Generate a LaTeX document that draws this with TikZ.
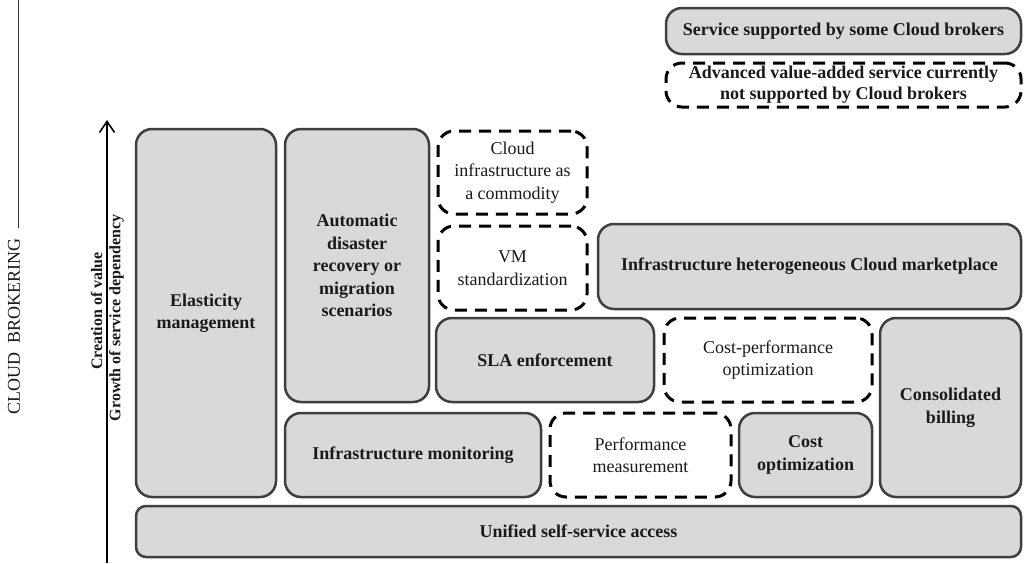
\documentclass[tikz,border=0pt]{standalone}
\usepackage{fontspec}
\setmainfont{Liberation Serif}
\usetikzlibrary{arrows.meta}
\definecolor{boxfill}{HTML}{D9D9D9}
\definecolor{boxline}{HTML}{3F3F3F}
\definecolor{txt}{HTML}{1A1A1A}
\begin{document}
\begin{tikzpicture}[x=1pt,y=-1pt,
  gbox/.style={draw=boxline, fill=boxfill, line width=2.5pt, rounded corners=16pt,
    align=center, inner sep=2pt, text=txt,
    font=\fontsize{18}{22.5}\selectfont\bfseries},
  dbox/.style={draw=black, fill=white, line width=3pt, dash pattern=on 12pt off 8pt,
    rounded corners=16pt, align=center, inner sep=2pt, text=txt,
    font=\fontsize{18}{22.5}\selectfont},
  axislbl/.style={rotate=90, inner sep=0pt, text=txt, font=\fontsize{16}{17}\selectfont\bfseries},
  sz/.style 2 args={minimum width=#1pt, minimum height=#2pt}
]
\useasboundingbox (0,0) rectangle (1026,563);

% left heading
\coordinate (ltop) at (18,0);
\coordinate (lbot) at (18,228);
\draw[line width=0.8pt, black!80] (ltop) -- (lbot);
\node[rotate=90, inner sep=0pt, text=txt, font=\fontsize{18}{20}\selectfont] (cb) at (14,326) {CLOUD\ \ BROKERING};

% axis arrow
\coordinate (abot) at (107,563);
\coordinate (atop) at (107,120);
\draw[line width=1.6pt, -{Straight Barb[length=11pt,width=15pt,line width=1.6pt]}] (abot) -- (atop);
\node[axislbl] (cv) at (96.5,311) {Creation of value};
\node[axislbl] (gs) at (116.5,318) {Growth of service dependency};

% legend
\node[gbox, sz={355}{46}] (leg1) at (843.5,31) {Service supported by some Cloud brokers};
\node[dbox, sz={355}{44}, font=\fontsize{18}{21}\selectfont\bfseries] (leg2) at (843.5,85) {Advanced value-added service currently\\not supported by Cloud brokers};

% main boxes
\node[gbox, sz={140}{368}] (elast) at (206,313) {Elasticity\\management};
\node[gbox, sz={144}{273}] (auto) at (357,265.5) {Automatic\\disaster\\recovery or\\migration\\scenarios};
\node[dbox, sz={149}{83}] (cloudc) at (512.5,172.5) {Cloud\\infrastructure as\\a commodity};
\node[dbox, sz={149}{84}] (vm) at (512.5,268) {VM\\standardization};
\node[gbox, sz={423}{85}] (market) at (809.5,266.5) {Infrastructure heterogeneous Cloud marketplace};
\node[gbox, sz={218}{84}] (sla) at (545,360) {SLA enforcement};
\node[dbox, sz={208}{84}] (costperf) at (768,360) {Cost-performance\\optimization};
\node[gbox, sz={141}{179}] (consol) at (950.5,407.5) {Consolidated\\billing};
\node[gbox, sz={256}{84}] (monit) at (413,455) {Infrastructure monitoring};
\node[dbox, sz={181}{84}] (perfm) at (640.5,455) {Performance\\measurement};
\node[gbox, sz={133}{84}] (costopt) at (805.5,455) {Cost\\optimization};
\node[gbox, sz={885}{51}, rounded corners=10pt] (unified) at (578.5,531.5) {Unified self-service access};
\end{tikzpicture}
\end{document}
